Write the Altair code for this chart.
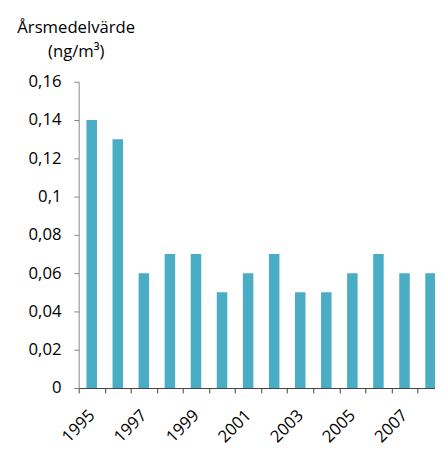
import altair as alt
import pandas as pd

years = [1995, 1996, 1997, 1998, 1999, 2000, 2001,
         2002, 2003, 2004, 2005, 2006, 2007, 2008]
values = [0.14, 0.13, 0.06, 0.07, 0.07, 0.05, 0.06,
          0.07, 0.05, 0.05, 0.06, 0.07, 0.06, 0.06]
y_ticks = [0, 0.02, 0.04, 0.06, 0.08, 0.10, 0.12, 0.14, 0.16]
y_title = ["Årsmedelvärde", "(ng/m³)"]

# category boundaries for the x tick marks (labels sit mid-category)
x_bounds = [y - 0.5 for y in years]

df = pd.DataFrame({"year": years, "value": values})

FONT = "Open Sans"
FS = 17
STEP = 26.55  # px per year, from the reference

chart = alt.Chart(df).mark_bar(color="#4BACC6", size=10.7).encode(
    x=alt.X(
        "year:Q",
        title=None,
        scale=alt.Scale(domain=[1994.5, 2008.17], nice=False, zero=False, padding=0),
        axis=alt.Axis(
            values=x_bounds,
            labelExpr="(datum.value + 0.5) % 2 == 1 ? format(datum.value + 0.5, 'd') : ''",
            labelOffset=STEP / 2,
            labelAngle=315,
            labelAlign="right",
            labelBaseline="middle",
            labelPadding=20,
            labelFont=FONT,
            labelFontSize=FS,
            labelColor="#000000",
            labelFlush=False,
            labelOverlap=False,
            tickSize=5,
            tickColor="#404040",
            domainColor="#404040",
            grid=False,
        ),
    ),
    y=alt.Y(
        "value:Q",
        title=y_title,
        scale=alt.Scale(domain=[0, 0.16], nice=False),
        axis=alt.Axis(
            values=y_ticks,
            labelExpr="replace(format(datum.value, '.2~f'), '.', ',')",
            labelFont=FONT,
            labelFontSize=FS,
            labelColor="#000000",
            labelPadding=13,
            tickSize=5,
            tickColor="#868686",
            domainColor="#868686",
            grid=False,
            titleAngle=0,
            titleAlign="center",
            titleBaseline="alphabetic",
            titleX=-3,
            titleY=-50,
            titleFont=FONT,
            titleFontSize=FS,
            titleFontWeight="normal",
            titleColor="#000000",
            titleLineHeight=24,
        ),
    ),
).properties(
    width=363,
    height=312,
    autosize=alt.AutoSizeParams(type="none"),
    padding={"left": 72, "top": 71, "right": 0, "bottom": 58},
).configure_view(stroke=None)

chart.save("out.html", embed_options={"renderer": "svg", "actions": False})
